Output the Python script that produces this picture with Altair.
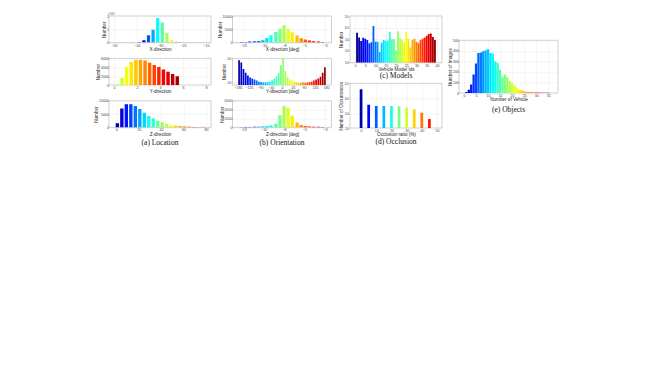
import altair as alt
import pandas as pd

FONT = "Liberation Sans"
SERIF = "Liberation Serif"

# ---------------- data ----------------
# (a) Location
locx_centers = [-39, -37, -35, -33, -31, -29, -27, -25, -23, -21]
locx_counts = [500, 1700, 5500, 9700, 18500, 15200, 7500, 1700, 700, 300]
locy_centers = [0.3, 0.7, 1.1, 1.5, 1.9, 2.3, 2.7, 3.1, 3.5, 3.9, 4.3, 4.7, 5.1, 5.5]
locy_counts = [150, 1600, 4050, 5200, 5700, 5700, 5500, 5000, 4500, 4050, 3500, 3000, 2500, 2000]
locz_centers = [1, 5, 9, 13, 17, 21, 25, 29, 33, 37, 41, 45, 49, 53, 57, 61, 65, 69, 73, 77]
locz_counts = [1600, 7100, 8750, 8750, 8000, 6900, 5500, 4250, 3400, 2500, 1900, 1400, 1000, 750,
               500, 350, 250, 150, 100, 50]

# (b) Orientation
orx_centers = [-12.7, -12.2, -11.7, -11.1, -10.6, -10.1, -9.6, -9.1, -8.5, -8.0,
               -7.5, -7.0, -6.5, -5.9, -5.4, -4.9, -4.4, -3.9, -3.3, -2.8]
orx_counts = [250, 250, 375, 500, 625, 875, 1750, 2750, 4000, 5250,
              6500, 5125, 3875, 2625, 1625, 1125, 750, 500, 375, 250]
ory_centers = [-175.5, -166.5, -157.5, -148.5, -139.5, -130.5, -121.5, -112.5, -103.5, -94.5,
               -85.5, -76.5, -67.5, -58.5, -49.5, -40.5, -31.5, -22.5, -13.5, -4.5,
               4.5, 13.5, 22.5, 31.5, 40.5, 49.5, 58.5, 67.5, 76.5, 85.5,
               94.5, 103.5, 112.5, 121.5, 130.5, 139.5, 148.5, 157.5, 166.5, 175.5]
ory_counts = [6900, 4500, 1300, 620, 370, 260, 210, 170, 140, 115,
              105, 100, 100, 105, 115, 140, 210, 320, 620, 2700,
              10000, 900, 300, 180, 140, 115, 100, 95, 95, 100,
              95, 100, 105, 115, 140, 170, 210, 300, 620, 1800]
orz_centers = orx_centers
orz_counts = [60, 80, 100, 120, 150, 200, 300, 500, 850, 2750,
              4800, 4400, 2600, 1100, 550, 300, 200, 150, 120, 100]

# (c) Models
model_ids = list(range(1, 40))
model_counts = [3700, 1400, 700, 1380, 1120, 890, 450, 560, 13800, 630,
                630, 80, 500, 890, 710, 800, 4470, 1000, 1000, 110,
                5000, 1260, 890, 560, 4000, 1120, 200, 890, 1120, 630,
                450, 890, 1120, 1410, 2000, 2800, 3160, 1580, 890]

# (d) Occlusion
occ_ratio = [0, 5, 10, 15, 20, 25, 30, 35, 40, 45]
occ_counts = [41000, 3700, 3000, 3000, 3000, 2950, 2350, 1800, 1070, 400]

# (e) Objects
veh_num = list(range(1, 37))
veh_images = [10, 30, 80, 175, 280, 380, 385, 395, 405, 415, 380, 375, 300, 285, 220, 150,
              175, 150, 115, 90, 70, 50, 32, 25, 15, 12, 8, 6, 5, 5, 4, 3, 3, 2, 2, 1]


def jet_hex(t):
    def c(v):
        return max(0.0, min(1.0, v))
    r = c(1.5 - abs(4 * t - 3))
    g = c(1.5 - abs(4 * t - 2))
    b = c(1.5 - abs(4 * t - 1))
    return "#%02x%02x%02x" % (int(r * 255), int(g * 255), int(b * 255))


SUP = ["\u2070", "\u00b9", "\u00b2", "\u00b3", "\u2074", "\u2075", "\u2076"]
LOGEXPR = "'10' + (" + " : ".join(
    "datum.value == %d ? '%s'" % (i, s) for i, s in enumerate(SUP)) + " : '')"


def top_marker(visible):
    df = pd.DataFrame({"t": ["\u00d710\u2074"]})
    return alt.Chart(df).mark_text(align="left", baseline="bottom", fontSize=3.5, font=FONT,
                                   color="#444444", opacity=1 if visible else 0).encode(
        text="t:N", x=alt.value(-1), y=alt.value(-0.5))


def panel(centers, counts, bw, t0, t1, xdom, xticks, xtitle, ydom, yticks, ytitle,
          w, h, log=False, ylabelexpr=None, title=None, toff=2, marker=None):
    n = len(centers)
    df = pd.DataFrame({"c": centers, "n": counts})
    df["x0"] = df["c"] - bw / 2
    df["x1"] = df["c"] + bw / 2
    df["col"] = [jet_hex(t0 + (t1 - t0) * i / max(n - 1, 1)) for i in range(n)]
    base = alt.Chart(df)
    if log:
        base = base.transform_calculate(v="log(datum.n)/LN10")
        ys = alt.Scale(domain=ydom, nice=False, zero=False)
        yax = alt.Axis(values=yticks, title=ytitle, labelExpr=LOGEXPR)
    else:
        base = base.transform_calculate(v="datum.n")
        ys = alt.Scale(domain=ydom, nice=False, zero=False)
        if ylabelexpr:
            yax = alt.Axis(values=yticks, title=ytitle, labelExpr=ylabelexpr)
        else:
            yax = alt.Axis(values=yticks, title=ytitle, format="d")
    ch = base.mark_bar(orient="vertical", clip=True).encode(
        x=alt.X("x0:Q", scale=alt.Scale(domain=xdom, nice=False, zero=False),
                axis=alt.Axis(values=xticks, title=xtitle)),
        x2="x1:Q",
        y=alt.Y("v:Q", scale=ys, axis=yax),
        y2=alt.value(h),
        color=alt.Color("col:N", scale=None),
    )
    if marker is not None:
        ch = alt.layer(ch, top_marker(marker))
    props = dict(width=w, height=h)
    if title:
        props["title"] = alt.TitleParams(title, orient="bottom", offset=toff)
    return ch.properties(**props)


AW, AH = 102, 26.6
a1 = panel(locx_centers, locx_counts, 1.4, 0.04, 0.79, [-50, -10], [-50, -40, -30, -20, -10],
           "X-direction", [0, 20000], [0, 10000, 20000], "Number", AW, AH,
           ylabelexpr="datum.value/10000", marker=True)
a2 = panel(locy_centers, locy_counts, 0.3, 0.55, 0.97, [0, 8], [0, 2, 4, 6, 8],
           "Y-direction", [0, 6000], [0, 2000, 4000, 6000], "Number", AW, AH)
a3 = panel(locz_centers, locz_counts, 3.0, 0.05, 0.95, [-2, 80], [0, 20, 40, 60, 80],
           "Z-direction", [0, 10000], [0, 5000, 10000], "Number", AW, AH,
           title="(a) Location", toff=3.5)

BW = 99
b1 = panel(orx_centers, orx_counts, 0.4, 0.06, 0.98, [-13.2, -2.3], [-12.5, -10, -7.5, -5, -2.5],
           "X-direction [deg]", [0, 10000], [0, 5000, 10000], "Number", BW, AH, marker=False)
b2 = panel(ory_centers, ory_counts, 7, 0.03, 0.98, [-182, 182],
           [-180, -135, -90, -45, 0, 45, 90, 135, 180],
           "Y-direction [deg]", [1.78, 4.0], [2, 4], "Number", BW, AH, log=True)
b3 = panel(orz_centers, orz_counts, 0.4, 0.06, 0.98, [-13.2, -2.3], [-12.5, -10, -7.5, -5, -2.5],
           "Z-direction [deg]", [0, 6000], [0, 2000, 4000, 6000], "Number", BW, AH,
           title="(b) Orientation", toff=3.5)

CW = 92
c1 = panel(model_ids, model_counts, 0.9, 0.02, 0.98, [0, 40], [0, 5, 10, 15, 20, 25, 30, 35, 40],
           "Vehicle Model Ids", [1, 5], [1, 2, 3, 4, 5], "Number", CW, 46.6,
           log=True, title="(c) Models", toff=1, marker=False)
d1 = panel(occ_ratio, occ_counts, 1.8, 0.04, 0.85, [-4, 50], [0, 10, 20, 30, 40, 50],
           "Occlusion ratio (%)", [2, 5], [2, 3, 4, 5],
           "Number of Occurrences", CW, 44.6, log=True, title="(d) Occlusion", toff=1.5)

EW = 99
e1 = panel(veh_num, veh_images, 0.95, 0.1, 0.97, [0, 37], [0, 5, 10, 15, 20, 25, 30, 35],
           "Number of Vehicle", [0, 500], [0, 100, 200, 300, 400, 500], "Number of Images",
           EW, 52.7, title="(e) Objects", toff=4.5)
spacer = alt.layer(
    alt.Chart(pd.DataFrame({"v": [0]})).mark_point(opacity=0).encode(
        x=alt.value(0), y=alt.value(0)),
    top_marker(False),
).properties(width=EW, height=10, view=alt.ViewBackground(strokeWidth=0))

colA = alt.vconcat(a1, a2, a3, spacing=15.4, bounds="flush")
colB = alt.vconcat(b1, b2, b3, spacing=15.4, bounds="flush")
colC = alt.vconcat(c1, d1, spacing=20.4, bounds="flush")
colE = alt.vconcat(spacer, e1, spacing=14.3, bounds="flush")

ce = alt.hconcat(colC, colE, spacing=4)
rightpart = alt.hconcat(colB, ce, spacing=5.5)
chart = alt.hconcat(colA, rightpart, spacing=4.5).properties(
    padding={"left": 85, "top": 3, "right": 5, "bottom": 5}
).configure_view(
    stroke="#a0a0a0", strokeWidth=0.5
).configure_axis(
    labelFont=FONT, titleFont=FONT, labelFontSize=3.6, titleFontSize=4.6,
    titleFontWeight="normal", labelColor="#444444", titleColor="#222222",
    grid=True, gridColor="#e6e6e6", gridWidth=0.4, domain=False, ticks=False,
    labelPadding=0.5, labelFlush=False, labelOverlap=False
).configure_axisX(
    titlePadding=-0.3
).configure_axisY(
    titlePadding=0
).configure_title(
    font=SERIF, fontSize=7.5, fontWeight="normal", color="#111111"
)

chart.save("out.html", embed_options={"renderer": "svg", "actions": False})
